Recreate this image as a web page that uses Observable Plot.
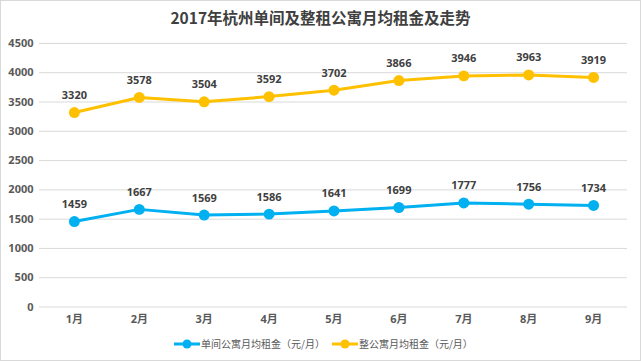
<!DOCTYPE html>
<html><head><meta charset="utf-8">
<script src="https://cdn.jsdelivr.net/npm/d3@7"></script>
<script src="https://cdn.jsdelivr.net/npm/@observablehq/plot@0.6"></script>
<style>
body{margin:0;background:#fff;}
#wrap{position:relative;width:639px;height:359px;border:1px solid #D9D9D9;overflow:hidden;font-family:"Open Sans","Noto Sans CJK SC",sans-serif;}
#title{position:absolute;top:5px;left:0;width:639px;text-align:center;font-size:15.5px;font-weight:bold;color:#404040;font-family:"Noto Sans CJK SC",sans-serif;}
#chart{position:absolute;top:-1px;left:-1px;}
#legend{position:absolute;top:335px;left:173px;display:flex;gap:7px;font-size:10px;color:#595959;font-family:"Noto Sans CJK SC",sans-serif;}
.item{display:flex;align-items:center;gap:1px;}
</style></head>
<body>
<div id="wrap">
<div id="chart"></div>
<div id="title">2017年杭州单间及整租公寓月均租金及走势</div>
<div id="legend"></div>
</div>
<script>
const months = ["1月","2月","3月","4月","5月","6月","7月","8月","9月"];
const singleRent = [1459,1667,1569,1586,1641,1699,1777,1756,1734];
const wholeRent = [3320,3578,3504,3592,3702,3866,3946,3963,3919];
const seriesNames = ["单间公寓月均租金（元/月）","整公寓月均租金（元/月）"];
const colors = ["#00B0F0","#FFC000"];
const yTicks = [0,500,1000,1500,2000,2500,3000,3500,4000,4500];

const data = [];
months.forEach((m,i)=>{
  data.push({month:m, value:singleRent[i], series:seriesNames[0]});
  data.push({month:m, value:wholeRent[i], series:seriesNames[1]});
});

const chart = Plot.plot({
  width: 641,
  height: 330,
  marginTop: 43,
  marginBottom: 23,
  marginLeft: 39,
  marginRight: 13,
  style:{fontFamily:'"Open Sans","Noto Sans CJK SC",sans-serif', fontSize:"11px", color:"#595959", background:"transparent"},
  x:{type:"point", domain:months, padding:0.5, label:null},
  y:{domain:[0,4500], ticks:yTicks, label:null},
  color:{domain:seriesNames, range:colors},
  marks:[
    Plot.ruleY(yTicks,{stroke:"#D9D9D9", strokeWidth:1}),
    Plot.axisY({ticks:yTicks, tickFormat:d=>String(d), tickSize:0, tickPadding:6, fontWeight:"bold", fill:"#595959", label:null}),
    Plot.axisX({tickSize:0, tickPadding:8, fontWeight:"bold", fill:"#595959", label:null}),
    Plot.line(data,{x:"month", y:"value", stroke:"series", strokeWidth:3}),
    Plot.dot(data,{x:"month", y:"value", fill:"series", r:5.5}),
    Plot.text(data,{x:"month", y:"value", text:d=>String(d.value), dy:-17, fill:"#404040", fontWeight:"bold", fontSize:11})
  ]
});
document.getElementById("chart").appendChild(chart);

const legend = document.getElementById("legend");
seriesNames.forEach((n,i)=>{
  const it = document.createElement("div"); it.className="item";
  it.innerHTML = `<svg width="26" height="12"><line x1="0" x2="26" y1="6" y2="6" stroke="${colors[i]}" stroke-width="3"/><circle cx="13" cy="6" r="4.5" fill="${colors[i]}"/></svg><span>${n}</span>`;
  legend.appendChild(it);
});
</script>
</body></html>
